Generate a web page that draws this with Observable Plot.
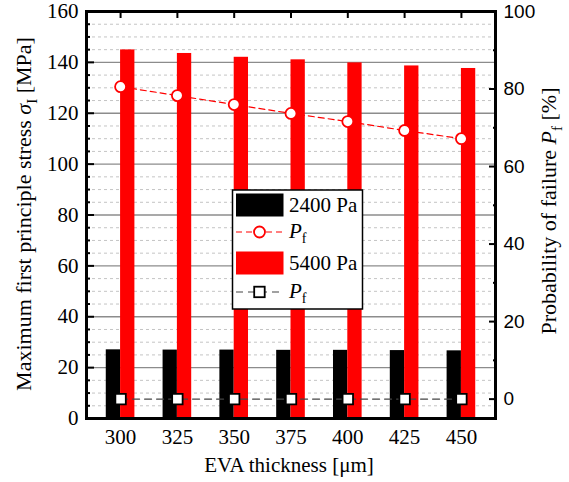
<!DOCTYPE html>
<html>
<head>
<meta charset="utf-8">
<script src="https://cdn.jsdelivr.net/npm/d3@7"></script>
<script src="https://cdn.jsdelivr.net/npm/@observablehq/plot@0.6"></script>
<style>
  html, body { margin: 0; padding: 0; background: white; }
  #chart { position: relative; width: 569px; height: 482px; }
</style>
</head>
<body>
<div id="chart"></div>
<script>
// ---- data ----
const thickness = [300, 325, 350, 375, 400, 425, 450];
const stress2400 = [27.0, 26.9, 26.9, 26.8, 26.8, 26.7, 26.6];
const stress5400 = [144.9, 143.5, 142.0, 141.0, 139.8, 138.6, 137.6];
const pf2400 = [0, 0, 0, 0, 0, 0, 0];
const pf5400 = [80.6, 78.3, 76.0, 73.7, 71.6, 69.3, 67.2];
const leftTicks = [0, 20, 40, 60, 80, 100, 120, 140, 160];
const leftMinor = [5,10,15,25,30,35,45,50,55,65,70,75,85,90,95,105,110,115,125,130,135,145,150,155];
const majorGrid = [20, 40, 60, 80, 100, 120, 140];
const rightTicks = [0, 20, 40, 60, 80, 100];
const rightMinor = [10, 30, 50, 70, 90];
const legendLabels = ["2400 Pa", "5400 Pa"];

const SERIF = "'Liberation Serif', 'Times New Roman', Times, serif";
const SANS = "'Liberation Sans', Arial, Helvetica, sans-serif";

// right axis: [-5, 100] shares pixels with left [0, 160]
const toLeft = p => (p + 5) * 160 / 105;
const fromLeft = v => v * 105 / 160 - 5;

const rows = thickness.map((t, i) => ({
  t, s2400: stress2400[i], s5400: stress5400[i], pf2400: pf2400[i], pf5400: pf5400[i]
}));
const bw = 6.3;

const plot = Plot.plot({
  width: 569, height: 482,
  marginLeft: 86, marginRight: 74, marginTop: 11, marginBottom: 64,
  style: {fontFamily: SERIF, fontSize: "21px", color: "black", background: "white"},
  x: {type: "linear", domain: [285, 465]},
  y: {domain: [0, 160]},
  marks: [
    Plot.ruleY(leftMinor, {stroke: "#c4c4c4", strokeDasharray: "3,3", strokeWidth: 1}),
    Plot.ruleY(majorGrid, {stroke: "#8c8c8c", strokeWidth: 1.3}),
    Plot.rect(rows, {x1: d => d.t - bw, x2: d => d.t, y1: 0, y2: "s2400", fill: "black"}),
    Plot.rect(rows, {x1: d => d.t, x2: d => d.t + bw, y1: 0, y2: "s5400", fill: "red"}),
    Plot.lineY(rows, {x: "t", y: d => toLeft(d.pf5400), stroke: "red", strokeDasharray: "6,4", strokeWidth: 1.2}),
    Plot.dot(rows, {x: "t", y: d => toLeft(d.pf5400), r: 5.5, stroke: "red", fill: "white", strokeWidth: 1.8}),
    Plot.lineY(rows, {x: "t", y: d => toLeft(d.pf2400), stroke: "#444", strokeDasharray: "7,5", strokeWidth: 1.2}),
    Plot.dot(rows, {x: "t", y: d => toLeft(d.pf2400), symbol: "square", r: 5.9, stroke: "black", fill: "white", strokeWidth: 1.8}),
    // left axis
    Plot.axisY({anchor: "left", ticks: leftTicks, tickSize: -8, tickFormat: () => "", strokeWidth: 2, label: null}),
    Plot.axisY({anchor: "left", ticks: leftMinor, tickSize: -4, tickFormat: () => "", strokeWidth: 2, label: null}),
    Plot.axisY({anchor: "left", ticks: leftTicks, tickSize: 0, tickPadding: 8, fontSize: 21, fontFamily: SERIF, label: null}),
    // right axis
    Plot.axisY({anchor: "right", ticks: rightTicks.map(toLeft), tickSize: -7, tickFormat: () => "", strokeWidth: 2, label: null}),
    Plot.axisY({anchor: "right", ticks: rightMinor.map(toLeft), tickSize: -3, tickFormat: () => "", strokeWidth: 2, label: null}),
    Plot.axisY({anchor: "right", ticks: rightTicks.map(toLeft), tickSize: 0, tickPadding: 8,
      tickFormat: d => String(Math.round(fromLeft(d))), fontFamily: SANS, fontSize: 19, label: null}),
    // x axes
    Plot.axisX({anchor: "top", ticks: thickness, tickSize: -6, tickFormat: () => "", strokeWidth: 2, label: null}),
    Plot.axisX({anchor: "bottom", ticks: thickness, tickSize: 0, tickPadding: 11, fontSize: 21, fontFamily: SERIF, label: null}),
    Plot.frame({stroke: "black", strokeWidth: 3})
  ]
});

const svg = d3.select(plot);

// axis titles
function title(x, y, rot, size, parts) {
  const t = svg.append("text")
    .attr("transform", `translate(${x},${y})` + (rot ? ` rotate(${rot})` : ""))
    .attr("text-anchor", "middle")
    .style("font-family", SERIF)
    .attr("font-size", size)
    .attr("fill", "black");
  parts.forEach(p => {
    const s = t.append("tspan").text(p.text);
    if (p.italic) s.attr("font-style", "italic");
    if (p.sub) s.attr("font-size", size * 0.68).attr("dy", size * 0.25);
    if (p.after) s.attr("dy", -size * 0.25);
  });
}
title(289, 472, 0, 21, [{text: "EVA thickness [μm]"}]);
title(31, 214, -90, 22, [
  {text: "Maximum first principle stress "}, {text: "σ", italic: true}, {text: "I", sub: true}, {text: " [MPa]", after: true}
]);
title(556, 211, -90, 22, [
  {text: "Probability of failure "}, {text: "P", italic: true}, {text: "f", sub: true}, {text: " [%]", after: true}
]);

// legend
const lg = svg.append("g");
lg.append("rect").attr("x", 232.5).attr("y", 190).attr("width", 130).attr("height", 119)
  .attr("fill", "white").attr("stroke", "black").attr("stroke-width", 1.5);
function legText(y, label, pf) {
  const t = lg.append("text").attr("x", 289).attr("y", y)
    .attr("text-anchor", "start")
    .style("font-family", SERIF).attr("font-size", 21).attr("fill", "black");
  if (pf) {
    t.append("tspan").attr("font-style", "italic").text("P");
    t.append("tspan").attr("font-size", 14).attr("dy", 5).text("f");
  } else t.text(label);
}
lg.append("rect").attr("x", 236).attr("y", 193.5).attr("width", 47.5).attr("height", 23).attr("fill", "black");
legText(212, legendLabels[0]);
lg.append("line").attr("x1", 236).attr("x2", 284).attr("y1", 232).attr("y2", 232)
  .attr("stroke", "red").attr("stroke-width", 1.2).attr("stroke-dasharray", "6,4");
lg.append("circle").attr("cx", 259.5).attr("cy", 232).attr("r", 5.5)
  .attr("fill", "white").attr("stroke", "red").attr("stroke-width", 1.8);
legText(238, null, true);
lg.append("rect").attr("x", 236).attr("y", 251.5).attr("width", 47.5).attr("height", 23).attr("fill", "red");
legText(270, legendLabels[1]);
lg.append("line").attr("x1", 236).attr("x2", 284).attr("y1", 292).attr("y2", 292)
  .attr("stroke", "#444").attr("stroke-width", 1.2).attr("stroke-dasharray", "7,5");
lg.append("rect").attr("x", 254.2).attr("y", 286.7).attr("width", 10.5).attr("height", 10.5)
  .attr("fill", "white").attr("stroke", "black").attr("stroke-width", 1.8);
legText(298, null, true);

document.getElementById("chart").appendChild(plot);
</script>
</body>
</html>
